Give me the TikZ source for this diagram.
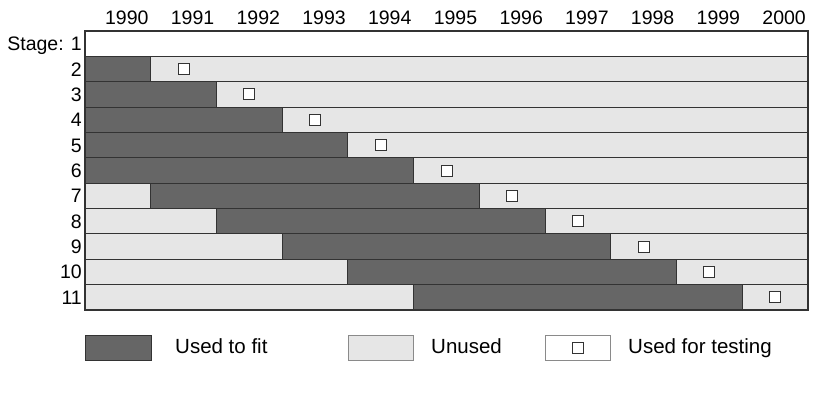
\documentclass[tikz,border=0pt]{standalone}
\usepackage{fontspec}
\setmainfont{Liberation Sans}
\definecolor{fitc}{HTML}{666666}
\definecolor{unc}{HTML}{E6E6E6}
\definecolor{edgec}{HTML}{333333}
\definecolor{legedge}{HTML}{8A8A8A}
\begin{document}
\begin{tikzpicture}[x=1pt,y=-1pt,
  seg/.style={draw=edgec, line width=1.1pt},
  fitbar/.style={seg, fill=fitc},
  unusedbar/.style={seg, fill=unc},
  blankbar/.style={seg, fill=white},
  tsq/.style={draw=edgec, line width=0.9pt, fill=white, minimum size=11pt, inner sep=0pt},
  lbl/.style={inner sep=0pt, font=\fontsize{19.5}{22}\selectfont},
  leglbl/.style={inner sep=0pt, anchor=base west, font=\fontsize{20.5}{23}\selectfont},
  legbox/.style={draw=legedge, line width=0.8pt}]
\useasboundingbox (0,0) rectangle (840,395);
\def\L{85}\def\U{65.727}\def\T{31}\def\H{25.364}
\pgfmathsetmacro{\R}{\L+11*\U}
% year labels
\foreach \yr [count=\i from 1] in {1990,...,2000}{
  \pgfmathsetmacro{\xx}{\L+\i*\U-2}
  \node[lbl, anchor=base east] (yr\yr) at (\xx, 25) {\yr};
}
% stage 1
\pgfmathsetmacro{\yb}{\T+\H}
\pgfmathsetmacro{\ym}{\T+0.5*\H+7}
\draw[blankbar] (\L,\T) rectangle (\R,\yb);
\node[lbl, anchor=base east] (st1) at (82,\ym) {Stage: 1};
% stages 2..11
\foreach \k in {2,...,11}{
  \pgfmathsetmacro{\ya}{\T+(\k-1)*\H}
  \pgfmathsetmacro{\yb}{\ya+\H}
  \pgfmathsetmacro{\yc}{\ya+0.5*\H}
  \pgfmathsetmacro{\yt}{\yc+7}
  \pgfmathsetmacro{\xa}{\L+max(\k-6,0)*\U}
  \pgfmathsetmacro{\xb}{\L+(\k-1)*\U}
  \pgfmathsetmacro{\xs}{\L+(\k-0.5)*\U}
  \ifnum\k>6
    \draw[unusedbar] (\L,\ya) rectangle (\xa,\yb);
  \fi
  \draw[unusedbar] (\xb,\ya) rectangle (\R,\yb);
  \draw[fitbar] (\xa,\ya) rectangle (\xb,\yb);
  \node[tsq] (sq\k) at (\xs,\yc) {};
  \node[lbl, anchor=base east] (st\k) at (82,\yt) {\k};
}
% legend
\draw[legbox, draw=edgec, fill=fitc] (85,335) rectangle (151,360);
\node[leglbl] (legfit) at (175,353) {Used to fit};
\draw[legbox, fill=unc] (348,335) rectangle (413,360);
\node[leglbl] (legunused) at (431,353) {Unused};
\draw[legbox, fill=white] (545,335) rectangle (610,360);
\node[tsq] (legsq) at (577.5,347.5) {};
\node[leglbl] (legtest) at (628,353) {Used for testing};
\end{tikzpicture}
\end{document}
